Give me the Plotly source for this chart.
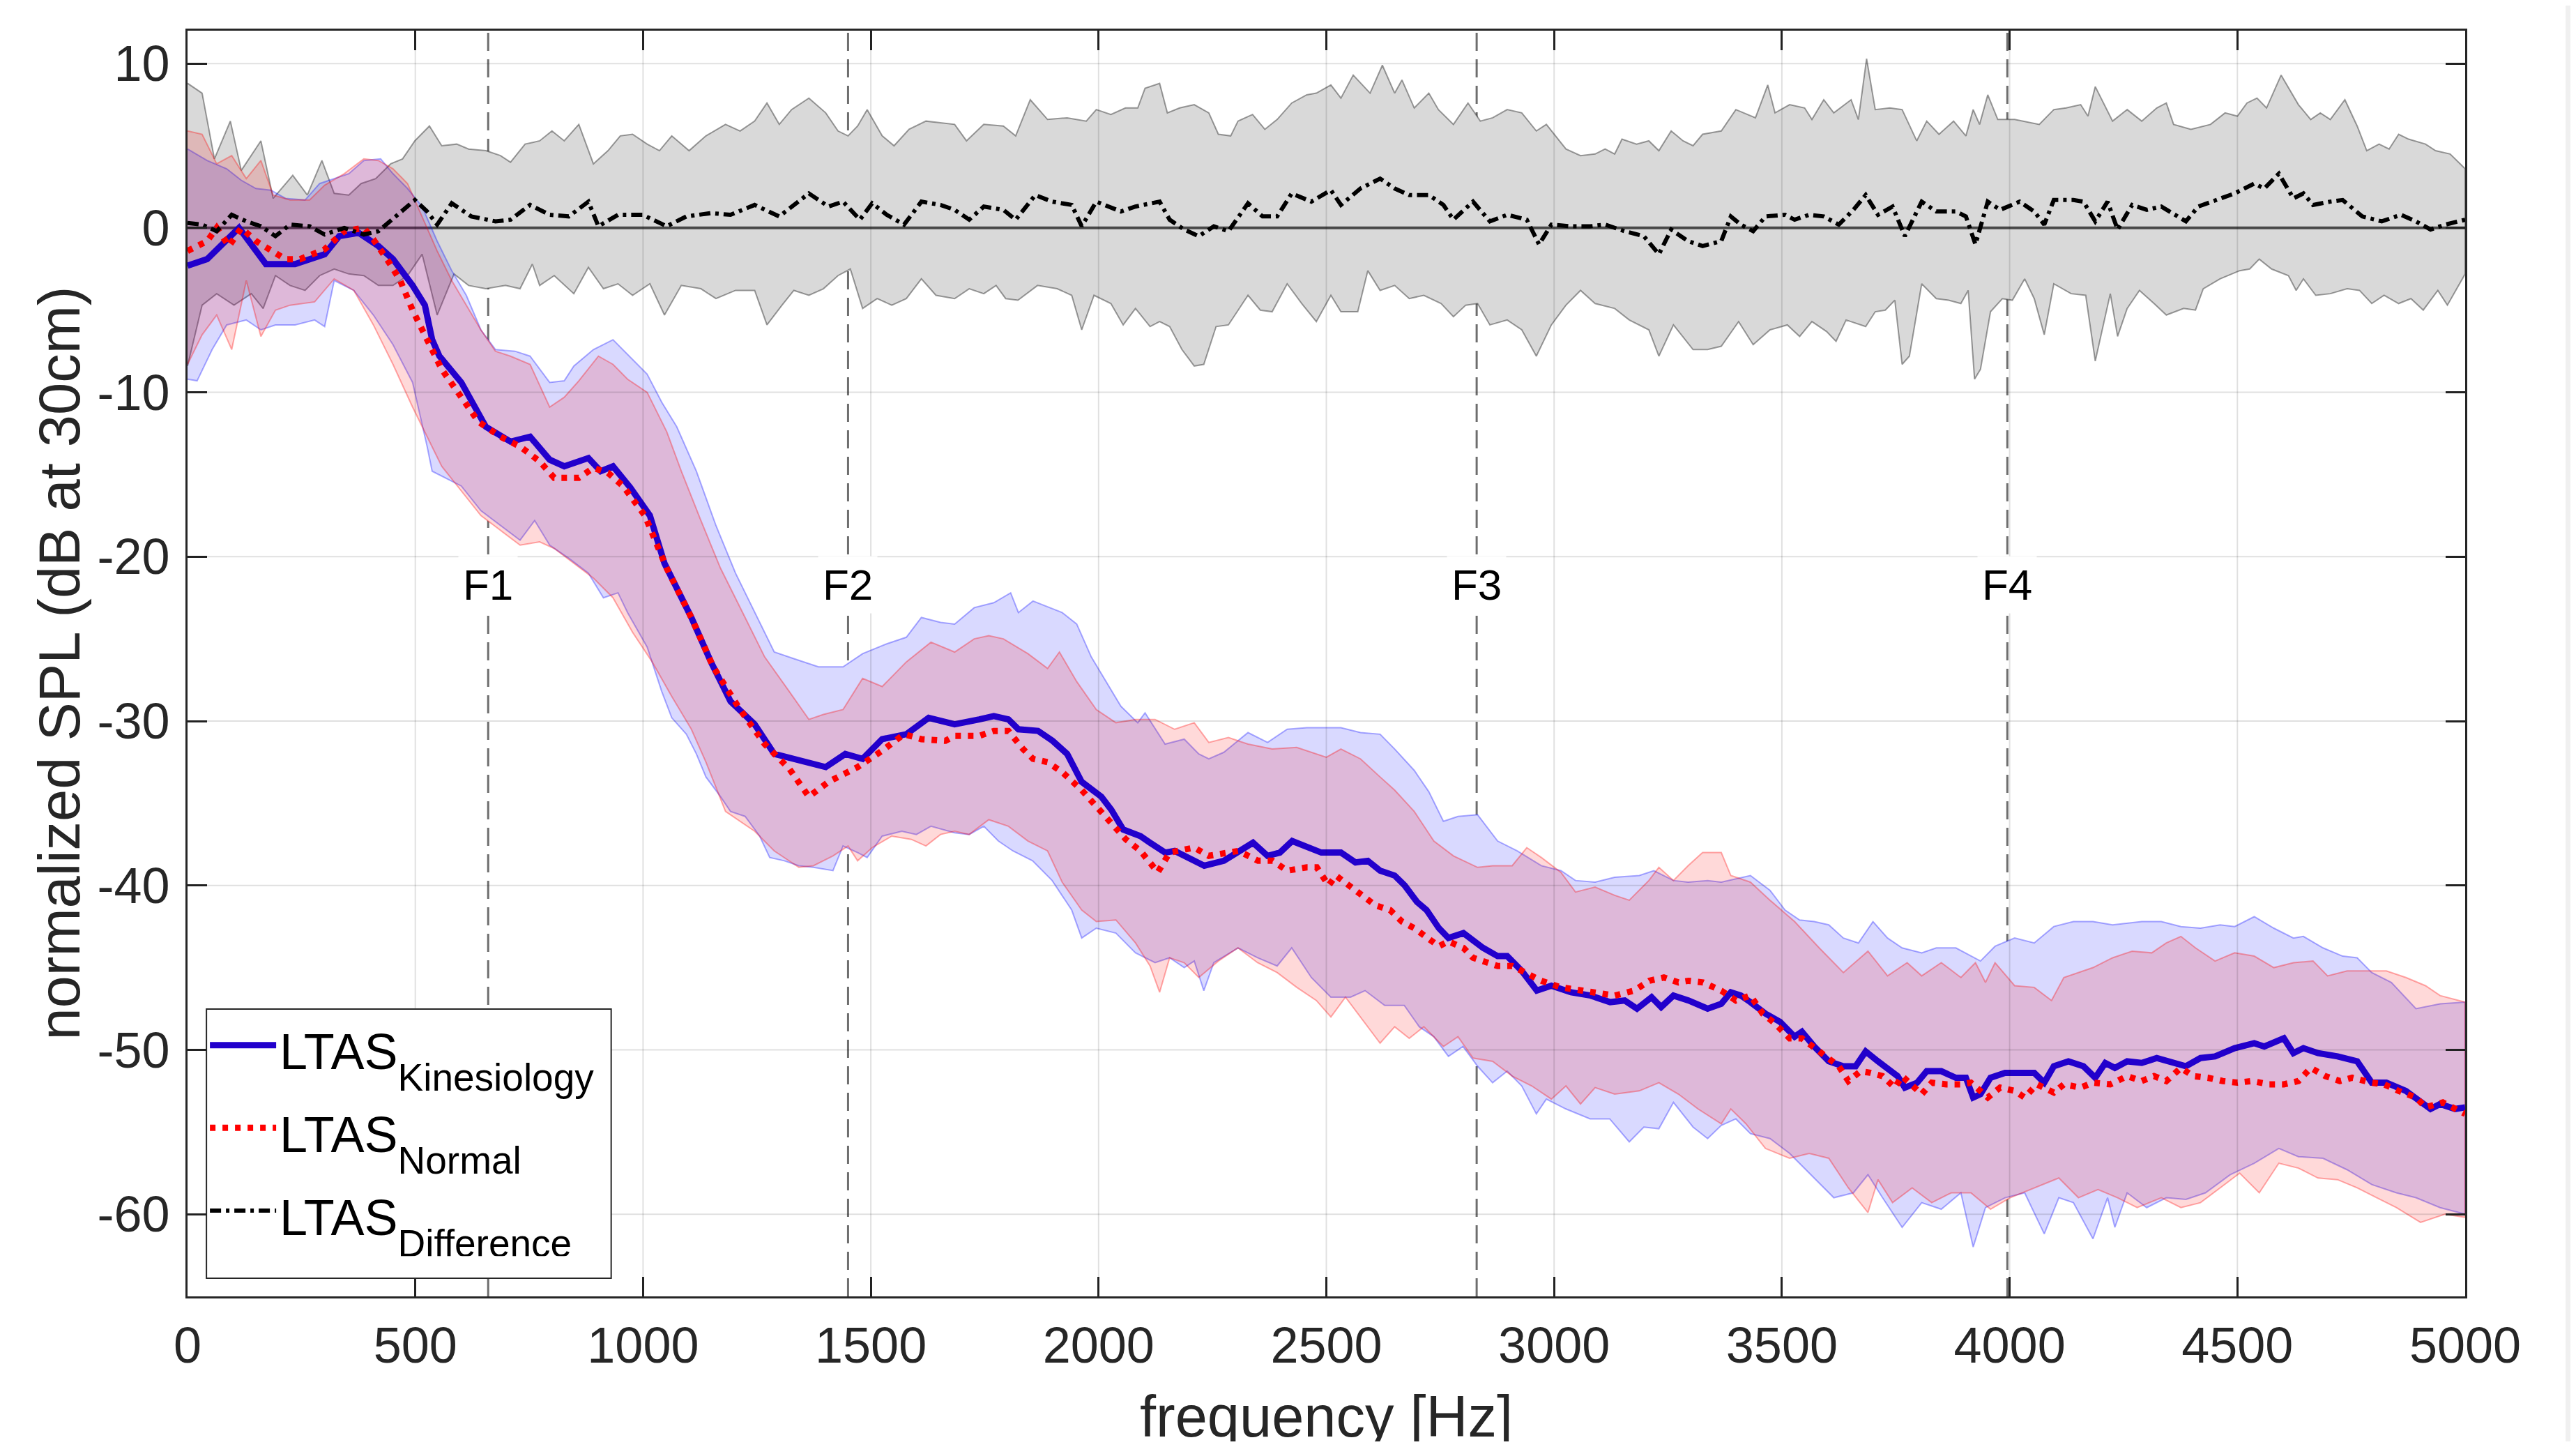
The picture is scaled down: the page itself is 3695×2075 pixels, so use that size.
import plotly.graph_objects as go

# frequency axis and tick labels
X_RANGE = [0, 5000]
Y_RANGE = [-65, 12]
X_TICKS = [0, 500, 1000, 1500, 2000, 2500, 3000, 3500, 4000, 4500, 5000]
Y_TICKS = [-60, -50, -40, -30, -20, -10, 0, 10]
Y_TICK_LABELS = ["-60", "-50", "-40", "-30", "-20", "-10", "0", "10"]

# formant positions [Hz]
FORMANTS = [("F1", 660), ("F2", 1450), ("F3", 2830), ("F4", 3995)]
FORMANT_LABEL_DB = -21.7

# legend names: main text + subscript
SERIES_NAMES = [("LTAS", "Kinesiology"), ("LTAS", "Normal"), ("LTAS", "Difference")]

# mean LTAS curves, (frequency Hz, dB)
KIN_MEAN = [(0,-2.3),(43,-1.9),(113,0.0),(172,-2.2),(236,-2.2),(301,-1.6),(333,-0.5),(376,-0.3),(419,-1.1),(451,-1.9),
    (494,-3.5),(521,-4.7),(537,-6.8),(553,-7.8),(601,-9.4),(655,-12.1),(709,-13.0),(752,-12.7),(795,-14.1),(827,-14.5),
    (880,-14.0),(907,-14.8),(934,-14.5),(972,-15.8),(1015,-17.5),(1047,-20.4),(1106,-23.7),(1149,-26.4),(1192,-28.8),(1245,-30.2),
    (1288,-32.0),(1331,-32.3),(1401,-32.8),(1444,-32.0),(1482,-32.3),(1525,-31.1),(1578,-30.8),(1627,-29.8),(1684,-30.2),(1738,-29.9),
    (1770,-29.7),(1802,-29.9),(1824,-30.5),(1867,-30.6),(1899,-31.2),(1931,-32.0),(1963,-33.7),(2006,-34.6),(2028,-35.4),(2054,-36.6),
    (2092,-37.0),(2113,-37.4),(2146,-38.0),(2167,-37.9),(2199,-38.3),(2232,-38.8),(2275,-38.5),(2307,-37.9),(2339,-37.4),(2371,-38.2),
    (2398,-38.0),(2425,-37.3),(2457,-37.6),(2489,-38.0),(2532,-38.0),(2564,-38.6),(2591,-38.5),(2618,-39.1),(2650,-39.4),(2672,-40.0),
    (2699,-41.0),(2720,-41.5),(2747,-42.6),(2768,-43.2),(2801,-42.9),(2844,-43.8),(2876,-44.3),(2897,-44.3),(2929,-45.2),(2962,-46.4),
    (2994,-46.1),(3037,-46.5),(3080,-46.7),(3123,-47.1),(3155,-47.0),(3182,-47.5),(3214,-46.8),(3235,-47.4),(3262,-46.7),(3295,-47.0),
    (3337,-47.5),(3367,-47.2),(3388,-46.5),(3410,-46.7),(3431,-47.1),(3464,-47.8),(3496,-48.3),(3528,-49.2),(3544,-48.9),(3571,-49.8),
    (3603,-50.7),(3635,-51.0),(3662,-51.0),(3684,-50.1),(3711,-50.7),(3754,-51.6),(3770,-52.3),(3797,-52.0),(3818,-51.3),(3850,-51.3),
    (3882,-51.7),(3904,-51.7),(3920,-52.9),(3936,-52.7),(3958,-51.7),(3990,-51.4),(4054,-51.4),(4076,-52.0),(4097,-51.0),(4129,-50.7),
    (4162,-51.0),(4188,-51.7),(4210,-50.8),(4231,-51.1),(4258,-50.7),(4290,-50.8),(4323,-50.5),(4355,-50.8),(4387,-51.0),(4419,-50.5),
    (4451,-50.4),(4494,-49.9),(4537,-49.6),(4559,-49.8),(4602,-49.3),(4623,-50.2),(4645,-49.9),(4677,-50.2),(4720,-50.4),(4763,-50.7),
    (4795,-52.0),(4827,-52.0),(4870,-52.5),(4924,-53.6),(4945,-53.3),(4978,-53.6),(5000,-53.5)]

NORM_MEAN = [(0,-1.4),(43,-0.8),(64,0.0),(91,-1.1),(118,0.0),(150,-0.8),(215,-1.9),(247,-1.9),(301,-1.3),(344,-0.2),
    (387,0.0),(408,-0.7),(440,-2.0),(467,-3.2),(494,-5.0),(526,-6.8),(558,-8.6),(601,-10.3),(639,-11.8),(687,-12.7),
    (730,-13.3),(773,-14.2),(805,-15.2),(859,-15.2),(891,-14.6),(923,-14.9),(956,-15.7),(1004,-17.5),(1052,-20.7),(1106,-23.7),
    (1154,-26.7),(1213,-29.3),(1267,-31.4),(1321,-32.9),(1364,-34.6),(1407,-33.7),(1471,-32.8),(1525,-31.8),(1573,-30.8),(1611,-31.1),
    (1664,-31.2),(1684,-30.9),(1738,-30.9),(1770,-30.6),(1802,-30.6),(1834,-31.7),(1856,-32.3),(1888,-32.5),(1920,-33.1),(1963,-34.2),
    (1995,-35.2),(2028,-36.3),(2060,-37.2),(2092,-37.9),(2130,-39.2),(2156,-38.0),(2210,-37.7),(2242,-38.2),(2275,-38.0),(2307,-37.9),
    (2350,-38.5),(2382,-38.5),(2414,-39.1),(2457,-38.9),(2479,-38.9),(2505,-40.0),(2521,-39.4),(2548,-40.0),(2575,-40.6),(2607,-41.2),
    (2640,-41.5),(2666,-42.2),(2693,-42.6),(2720,-43.1),(2747,-43.7),(2768,-43.4),(2801,-43.8),(2822,-44.4),(2876,-44.9),(2908,-44.9),
    (2940,-45.3),(2972,-45.8),(3015,-46.2),(3058,-46.4),(3091,-46.5),(3133,-46.7),(3176,-46.4),(3209,-45.8),(3241,-45.6),(3273,-45.9),
    (3295,-45.8),(3327,-45.9),(3367,-46.4),(3399,-47.0),(3431,-46.7),(3458,-47.8),(3485,-48.4),(3517,-49.3),(3544,-49.3),(3571,-49.9),
    (3598,-50.5),(3625,-51.0),(3646,-51.9),(3673,-51.3),(3694,-51.4),(3721,-51.6),(3748,-52.3),(3764,-51.6),(3807,-52.7),(3829,-52.0),
    (3861,-52.1),(3893,-52.1),(3915,-52.0),(3952,-52.9),(3979,-52.3),(4011,-52.5),(4033,-52.9),(4060,-52.1),(4097,-52.6),(4119,-52.1),
    (4156,-52.3),(4183,-52.0),(4221,-52.1),(4258,-51.6),(4290,-51.9),(4317,-51.6),(4344,-51.9),(4376,-51.1),(4403,-51.6),(4435,-51.7),
    (4468,-51.9),(4500,-52.0),(4532,-51.9),(4570,-52.1),(4602,-52.1),(4634,-51.9),(4661,-51.1),(4693,-51.6),(4725,-51.9),(4752,-51.7),
    (4795,-52.0),(4822,-52.1),(4854,-52.5),(4892,-52.9),(4913,-53.5),(4951,-53.2),(5000,-53.9)]

DIFF_MEAN = [(0,0.3),(32,0.2),(64,-0.2),(97,0.8),(129,0.4),(161,0.1),(193,-0.5),(225,0.2),(268,0.1),(301,-0.4),
    (344,0.0),(387,-0.4),(419,-0.2),(462,0.8),(499,1.7),(526,1.0),(548,0.2),(580,1.5),(623,0.7),(676,0.4),
    (709,0.5),(752,1.4),(795,0.8),(837,0.7),(880,1.6),(902,0.1),(945,0.8),(999,0.8),(1052,0.1),(1095,0.7),
    (1149,0.9),(1192,0.8),(1245,1.4),(1299,0.7),(1331,1.4),(1364,2.1),(1407,1.3),(1439,1.6),(1476,0.5),(1503,1.5),
    (1535,0.8),(1573,0.2),(1611,1.6),(1653,1.4),(1684,1.1),(1716,0.5),(1748,1.3),(1791,1.1),(1818,0.5),(1861,2.0),
    (1898,1.6),(1941,1.4),(1963,0.1),(1995,1.6),(2049,1.0),(2081,1.3),(2134,1.6),(2156,0.5),(2188,-0.1),(2220,-0.5),
    (2253,0.1),(2285,-0.2),(2328,1.5),(2360,0.7),(2392,0.7),(2424,2.1),(2467,1.6),(2510,2.3),(2532,1.4),(2575,2.4),
    (2618,3.0),(2650,2.4),(2682,2.0),(2725,2.0),(2757,1.4),(2779,0.5),(2822,1.6),(2859,0.4),(2897,0.8),(2940,0.5),
    (2967,-1.0),(2994,0.2),(3037,0.1),(3079,0.1),(3112,0.2),(3155,-0.2),(3197,-0.5),(3230,-1.6),(3257,-0.1),(3294,-0.8),
    (3326,-1.1),(3367,-0.8),(3388,0.7),(3410,0.2),(3437,-0.2),(3464,0.7),(3507,0.8),(3528,0.5),(3560,0.8),(3592,0.7),
    (3625,0.2),(3657,1.1),(3684,2.0),(3711,0.8),(3743,1.3),(3770,-0.5),(3807,1.6),(3839,1.0),(3882,1.0),(3904,0.7),
    (3925,-1.0),(3952,1.6),(3979,1.1),(4022,1.6),(4054,1.0),(4076,0.2),(4097,1.7),(4140,1.7),(4162,1.6),(4188,0.4),
    (4215,1.6),(4237,-0.1),(4269,1.4),(4301,1.1),(4333,1.3),(4387,0.4),(4414,1.3),(4451,1.7),(4494,2.1),(4537,2.7),
    (4559,2.4),(4591,3.3),(4623,1.8),(4645,2.1),(4666,1.4),(4704,1.6),(4731,1.7),(4774,0.7),(4817,0.4),(4859,0.8),
    (4892,0.4),(4924,-0.1),(4956,0.2),(5000,0.5)]

# spread bands, upper and lower edges
KIN_UP = [(0,4.8),(43,4.1),(86,3.6),(118,2.9),(150,2.4),(183,2.3),(215,1.8),(258,1.7),(290,2.7),(322,3.0),
    (354,3.3),(387,4.1),(424,4.2),(451,3.3),(483,2.4),(515,1.3),(548,-0.8),(580,-2.6),(612,-4.1),(644,-6.2),
    (676,-7.4),(719,-7.5),(752,-7.8),(795,-9.4),(827,-9.3),(848,-8.4),(891,-7.4),(934,-6.8),(966,-7.7),(1009,-8.9),
    (1041,-10.6),(1074,-12.1),(1117,-14.8),(1160,-18.1),(1203,-21.0),(1245,-23.4),(1288,-25.8),(1331,-26.2),(1385,-26.7),(1439,-26.7),
    (1482,-25.9),(1535,-25.3),(1578,-24.9),(1611,-23.7),(1653,-24.0),(1684,-24.1),(1727,-23.1),(1770,-22.8),(1807,-22.2),(1824,-23.4),
    (1856,-22.7),(1920,-23.4),(1952,-24.1),(1984,-26.1),(2017,-27.6),(2049,-29.1),(2086,-30.1),(2102,-29.5),(2146,-31.4),(2188,-31.1),
    (2220,-32.0),(2242,-32.3),(2275,-31.9),(2328,-30.7),(2371,-31.3),(2414,-30.5),(2457,-30.4),(2532,-30.4),(2575,-30.7),(2618,-30.8),
    (2650,-31.7),(2693,-33.0),(2725,-34.3),(2757,-36.1),(2789,-35.8),(2832,-35.7),(2876,-37.3),(2919,-37.9),(2972,-38.8),(3015,-39.1),
    (3047,-39.7),(3090,-39.8),(3133,-39.5),(3187,-39.4),(3219,-39.1),(3262,-39.7),(3294,-39.8),(3337,-39.7),(3367,-39.8),(3399,-39.6),
    (3431,-39.4),(3474,-40.3),(3507,-41.5),(3539,-42.1),(3571,-42.2),(3603,-42.4),(3635,-43.2),(3668,-43.5),(3700,-42.2),(3732,-43.2),
    (3764,-43.8),(3807,-44.1),(3839,-43.8),(3882,-43.8),(3936,-44.6),(3968,-43.7),(4011,-43.2),(4054,-43.5),(4097,-42.5),(4140,-42.2),
    (4183,-42.2),(4226,-42.4),(4290,-42.2),(4333,-42.2),(4376,-42.5),(4419,-42.6),(4462,-42.4),(4494,-42.5),(4537,-41.9),(4580,-42.6),
    (4623,-43.2),(4645,-43.1),(4688,-43.8),(4731,-44.3),(4763,-44.4),(4795,-45.3),(4838,-45.9),(4892,-47.5),(4945,-47.2),(5000,-47.1)]

KIN_LO = [(0,-9.2),(21,-9.3),(54,-7.4),(86,-5.9),(129,-5.6),(161,-6.2),(193,-5.9),(236,-5.9),(279,-5.6),(301,-6.0),
    (322,-3.2),(365,-3.8),(408,-5.3),(451,-7.1),(494,-9.4),(526,-13.3),(537,-14.8),(558,-15.1),(601,-15.7),(644,-17.2),
    (687,-18.1),(730,-19.0),(762,-17.8),(795,-19.3),(837,-20.1),(880,-21.0),(913,-22.5),(945,-22.2),(966,-23.4),(1009,-25.5),
    (1041,-28.2),(1063,-29.8),(1095,-30.8),(1117,-32.0),(1138,-33.4),(1170,-34.6),(1192,-35.5),(1224,-35.8),(1256,-37.0),(1278,-38.3),
    (1310,-38.5),(1342,-38.8),(1374,-38.9),(1417,-39.1),(1439,-37.6),(1471,-38.0),(1492,-38.3),(1525,-37.0),(1568,-36.7),(1600,-36.9),
    (1632,-36.4),(1684,-36.8),(1716,-36.9),(1748,-36.4),(1780,-37.3),(1812,-37.9),(1855,-38.5),(1898,-39.7),(1941,-41.5),(1963,-43.2),
    (1995,-42.6),(2038,-42.9),(2081,-44.1),(2124,-44.7),(2156,-44.4),(2188,-45.0),(2210,-44.6),(2231,-46.4),(2253,-44.7),(2306,-43.8),
    (2349,-44.4),(2392,-44.9),(2424,-43.8),(2467,-45.6),(2510,-46.8),(2553,-46.8),(2585,-46.4),(2628,-47.3),(2671,-47.3),(2704,-48.6),
    (2736,-49.2),(2768,-50.4),(2800,-49.8),(2832,-51.0),(2865,-52.0),(2897,-51.3),(2929,-52.2),(2961,-53.9),(2983,-53.0),(3026,-53.6),
    (3079,-54.2),(3122,-54.2),(3165,-55.6),(3197,-54.7),(3230,-54.8),(3262,-53.2),(3305,-54.7),(3337,-55.4),(3367,-54.6),(3399,-54.2),
    (3431,-55.1),(3474,-55.4),(3517,-56.3),(3560,-57.5),(3614,-59.0),(3657,-58.7),(3689,-57.6),(3721,-59.0),(3764,-60.8),(3807,-59.3),
    (3850,-59.7),(3893,-58.7),(3920,-62.0),(3947,-59.6),(3990,-59.0),(4033,-58.7),(4076,-61.2),(4108,-59.0),(4140,-59.3),(4183,-61.5),
    (4215,-59.0),(4231,-60.8),(4258,-58.7),(4301,-59.6),(4344,-59.0),(4387,-59.1),(4430,-58.7),(4484,-57.6),(4537,-56.9),(4591,-56.0),
    (4634,-56.5),(4688,-56.6),(4741,-57.3),(4795,-58.2),(4849,-58.7),(4892,-59.0),(4945,-59.6),(5000,-60.0)]

NORM_UP = [(0,5.9),(32,5.7),(64,3.9),(97,4.4),(129,3.0),(161,4.1),(188,2.0),(225,1.7),(268,1.7),(301,2.6),
    (344,3.3),(387,4.2),(419,4.1),(451,3.6),(483,2.7),(515,0.7),(548,-1.4),(580,-3.2),(612,-4.7),(644,-6.2),
    (676,-7.5),(709,-7.8),(752,-8.3),(795,-10.9),(827,-10.3),(859,-9.3),(902,-7.8),(934,-8.3),(966,-9.2),(1009,-10.0),
    (1052,-12.4),(1084,-14.8),(1127,-17.8),(1170,-20.7),(1224,-23.7),(1267,-26.1),(1321,-28.2),(1364,-29.9),(1396,-29.6),(1439,-29.3),
    (1482,-27.4),(1525,-27.9),(1578,-26.4),(1632,-25.2),(1684,-25.8),(1727,-25.0),(1759,-24.8),(1791,-25.0),(1845,-25.9),(1888,-26.8),
    (1914,-25.8),(1952,-27.6),(1995,-29.3),(2038,-30.1),(2081,-29.9),(2124,-29.9),(2167,-30.5),(2210,-30.1),(2242,-31.3),(2285,-31.0),
    (2328,-31.4),(2381,-31.7),(2435,-31.6),(2500,-32.2),(2532,-31.7),(2575,-32.3),(2618,-33.4),(2650,-34.2),(2693,-35.5),(2736,-37.3),
    (2779,-38.2),(2832,-38.9),(2865,-38.8),(2908,-38.8),(2940,-37.7),(2972,-38.3),(3015,-39.2),(3047,-40.4),(3090,-40.1),(3133,-40.6),
    (3165,-40.9),(3208,-39.7),(3230,-38.9),(3262,-39.7),(3294,-38.8),(3326,-38.0),(3367,-38.0),(3388,-39.4),(3431,-39.8),(3474,-40.9),
    (3528,-42.2),(3582,-43.8),(3635,-45.3),(3689,-44.0),(3732,-45.5),(3775,-44.7),(3807,-45.5),(3850,-44.7),(3893,-45.6),(3925,-44.7),
    (3947,-45.9),(3968,-44.7),(4011,-46.1),(4054,-46.2),(4092,-47.0),(4119,-45.6),(4183,-45.0),(4226,-44.4),(4269,-44.0),(4312,-44.1),
    (4344,-43.5),(4376,-43.1),(4408,-43.8),(4451,-44.6),(4494,-44.1),(4537,-44.3),(4580,-45.0),(4623,-44.7),(4666,-44.6),(4698,-45.5),
    (4741,-45.2),(4784,-45.2),(4827,-45.2),(4870,-45.6),(4913,-46.1),(4945,-46.7),(5000,-47.1)]

NORM_LO = [(0,-8.3),(32,-6.5),(64,-5.3),(97,-7.4),(129,-3.2),(161,-6.6),(193,-5.0),(225,-4.7),(279,-4.5),(322,-3.1),
    (365,-3.8),(408,-5.9),(451,-8.3),(494,-10.9),(526,-12.7),(558,-14.5),(601,-16.0),(644,-17.5),(687,-18.4),(730,-19.3),
    (773,-19.1),(805,-19.5),(848,-20.4),(891,-21.3),(934,-22.5),(977,-24.6),(1020,-26.4),(1063,-28.5),(1106,-30.5),(1138,-32.5),
    (1181,-35.5),(1245,-36.7),(1288,-37.9),(1342,-38.9),(1374,-38.8),(1417,-38.2),(1450,-37.6),(1471,-38.5),(1503,-37.7),(1546,-37.0),
    (1589,-37.2),(1621,-37.6),(1653,-36.9),(1684,-36.7),(1716,-36.9),(1759,-36.0),(1802,-36.4),(1845,-37.3),(1888,-37.9),(1920,-39.8),
    (1963,-41.5),(1995,-42.2),(2038,-42.1),(2081,-43.5),(2113,-44.9),(2134,-46.5),(2156,-44.4),(2188,-44.7),(2220,-45.6),(2263,-44.6),
    (2306,-43.8),(2349,-44.7),(2392,-45.3),(2435,-46.2),(2478,-47.0),(2510,-48.0),(2542,-46.8),(2575,-48.0),(2618,-49.6),(2650,-48.6),
    (2682,-49.3),(2714,-48.6),(2757,-49.8),(2789,-49.2),(2822,-50.5),(2865,-50.7),(2908,-51.6),(2951,-52.2),(2994,-53.0),(3026,-52.2),
    (3058,-53.3),(3090,-52.3),(3133,-52.7),(3187,-52.5),(3230,-52.0),(3273,-52.7),(3316,-53.6),(3367,-54.5),(3388,-53.6),(3421,-54.5),
    (3464,-56.0),(3517,-56.6),(3560,-56.3),(3603,-56.6),(3646,-58.4),(3689,-59.9),(3711,-57.9),(3743,-59.3),(3786,-58.4),(3829,-59.3),
    (3872,-58.7),(3915,-58.7),(3958,-59.7),(4001,-59.0),(4054,-58.4),(4108,-57.8),(4151,-59.0),(4194,-58.5),(4237,-59.0),(4280,-59.6),
    (4333,-59.0),(4376,-59.6),(4419,-59.3),(4462,-58.4),(4505,-57.5),(4548,-58.7),(4591,-56.9),(4634,-57.2),(4677,-57.8),(4720,-57.9),
    (4763,-58.4),(4806,-59.0),(4849,-59.6),(4902,-60.5),(4956,-60.0),(5000,-60.2)]

DIFF_UP = [(0,8.8),(32,8.2),(59,4.2),(94,6.5),(118,3.5),(161,5.3),(188,1.8),(231,3.2),(263,2.0),(295,4.1),
    (322,2.1),(354,2.0),(381,2.7),(413,3.0),(446,3.9),(472,4.2),(499,5.3),(531,6.2),(558,5.0),(591,5.1),
    (617,4.8),(655,4.7),(687,4.4),(709,4.0),(741,5.1),(773,5.3),(800,5.9),(827,5.3),(859,6.3),(891,3.9),
    (923,4.7),(950,5.6),(977,5.7),(1009,5.1),(1036,4.7),(1063,5.6),(1101,4.7),(1138,5.6),(1181,6.3),(1213,5.9),
    (1245,6.5),(1272,7.6),(1299,6.3),(1326,7.2),(1364,7.9),(1401,7.0),(1428,5.9),(1450,5.6),(1471,6.2),(1492,7.2),
    (1525,5.6),(1551,5.0),(1584,6.0),(1621,6.5),(1684,6.3),(1710,5.3),(1748,6.3),(1791,6.2),(1818,5.6),(1850,7.8),
    (1888,6.6),(1931,6.7),(1973,6.5),(1995,7.2),(2027,6.9),(2059,7.3),(2086,7.3),(2102,8.5),(2134,8.8),(2151,7.0),
    (2178,7.3),(2210,7.5),(2242,7.0),(2263,5.7),(2290,5.6),(2306,6.5),(2338,6.9),(2365,6.0),(2392,6.6),(2424,7.6),
    (2457,8.1),(2478,8.2),(2510,8.7),(2532,7.9),(2559,9.3),(2596,8.2),(2623,9.9),(2650,8.2),(2666,9.0),(2693,7.3),
    (2725,8.2),(2746,7.2),(2779,6.3),(2811,7.6),(2838,6.5),(2865,6.7),(2897,7.2),(2929,7.0),(2961,5.9),(2983,6.3),
    (3026,4.8),(3058,4.4),(3090,4.5),(3112,4.8),(3133,4.5),(3149,5.4),(3181,5.1),(3208,5.3),(3230,4.7),(3257,5.9),
    (3283,5.3),(3305,5.0),(3326,5.7),(3367,5.9),(3399,7.2),(3442,6.7),(3469,8.7),(3485,7.0),(3517,7.5),(3550,7.3),
    (3566,6.6),(3592,7.8),(3614,7.0),(3652,7.8),(3668,6.6),(3686,10.3),(3705,7.2),(3737,7.3),(3764,7.2),(3796,5.3),
    (3818,6.5),(3845,5.7),(3877,6.5),(3904,5.6),(3920,7.2),(3934,6.3),(3952,8.1),(3974,6.6),(4011,6.6),(4065,6.3),
    (4097,7.2),(4124,7.3),(4156,7.5),(4172,6.8),(4188,8.6),(4226,6.5),(4258,7.2),(4290,6.5),(4323,7.3),(4344,7.6),
    (4360,6.3),(4398,6.0),(4441,6.3),(4473,7.0),(4500,6.8),(4521,7.6),(4543,7.9),(4564,7.3),(4596,9.3),(4634,7.5),
    (4661,6.6),(4682,7.0),(4704,6.6),(4736,7.8),(4763,6.2),(4784,4.7),(4811,5.1),(4833,4.8),(4854,5.7),(4876,5.4),
    (4913,5.1),(4935,4.7),(4967,4.5),(5000,3.6)]

DIFF_LO = [(0,-8.4),(32,-4.7),(64,-4.0),(102,-4.7),(140,-4.0),(166,-4.9),(193,-2.9),(225,-3.5),(258,-3.8),(290,-2.9),
    (322,-2.5),(354,-2.8),(387,-2.9),(419,-3.5),(451,-3.5),(483,-2.9),(515,-1.6),(548,-5.3),(585,-2.8),(617,-3.5),
    (655,-3.7),(698,-3.5),(730,-3.7),(757,-2.2),(773,-3.5),(805,-2.9),(848,-4.0),(880,-2.4),(913,-3.7),(945,-3.4),
    (977,-4.1),(1015,-3.4),(1047,-5.3),(1084,-3.5),(1127,-3.7),(1160,-4.3),(1203,-3.8),(1245,-3.8),(1272,-5.9),(1305,-4.7),
    (1331,-3.8),(1364,-4.1),(1396,-3.7),(1428,-2.9),(1455,-2.5),(1482,-4.9),(1514,-4.3),(1546,-4.7),(1578,-4.3),(1611,-3.1),
    (1643,-4.1),(1684,-4.3),(1716,-3.7),(1748,-4.0),(1775,-3.5),(1796,-4.3),(1823,-4.4),(1866,-3.5),(1909,-3.7),(1941,-4.1),
    (1963,-6.2),(1990,-4.1),(2027,-4.6),(2054,-5.9),(2081,-4.9),(2113,-6.0),(2134,-5.7),(2156,-6.0),(2183,-7.4),(2210,-8.4),
    (2231,-8.3),(2258,-6.0),(2285,-5.9),(2328,-4.1),(2355,-5.0),(2381,-5.1),(2414,-3.4),(2446,-4.6),(2478,-5.7),(2510,-4.1),
    (2532,-5.1),(2569,-5.1),(2591,-2.6),(2618,-3.8),(2650,-3.5),(2682,-4.3),(2714,-4.1),(2752,-4.6),(2779,-5.4),(2806,-4.7),
    (2832,-4.6),(2859,-5.9),(2897,-5.6),(2929,-6.2),(2961,-7.8),(2994,-5.9),(3026,-4.7),(3058,-3.8),(3090,-4.6),(3133,-4.9),
    (3165,-5.6),(3208,-6.2),(3230,-7.8),(3262,-5.9),(3305,-7.4),(3337,-7.4),(3367,-7.2),(3405,-5.7),(3437,-7.1),(3474,-6.2),
    (3512,-5.9),(3539,-6.6),(3566,-5.7),(3598,-6.3),(3619,-6.9),(3641,-5.6),(3684,-6.0),(3705,-5.1),(3727,-5.0),(3748,-4.4),
    (3764,-8.3),(3780,-7.8),(3807,-3.4),(3839,-4.3),(3866,-4.4),(3893,-4.6),(3909,-3.8),(3923,-9.2),(3936,-8.6),(3958,-5.1),
    (3984,-4.3),(4006,-4.4),(4033,-3.1),(4054,-4.3),(4076,-6.5),(4097,-3.4),(4135,-4.0),(4167,-4.1),(4188,-8.1),(4221,-4.0),
    (4237,-6.6),(4258,-4.9),(4285,-3.8),(4317,-4.6),(4344,-5.3),(4382,-4.9),(4408,-5.0),(4425,-3.7),(4462,-3.1),(4505,-2.6),
    (4527,-2.5),(4548,-1.9),(4575,-2.5),(4612,-2.9),(4629,-3.8),(4645,-3.1),(4672,-4.1),(4704,-4.0),(4741,-3.7),(4768,-3.8),
    (4795,-4.6),(4822,-4.1),(4854,-4.6),(4881,-4.3),(4908,-5.0),(4940,-3.8),(4961,-4.7),(5000,-2.8)]

FONT = "Liberation Sans"
AXIS_COLOR = "#262626"


def split(pairs):
    f, v = zip(*pairs)
    return list(f), list(v)


def band_polygon(up, lo):
    fu, vu = split(up)
    fl, vl = split(lo)
    return fu + fl[::-1], vu + vl[::-1]


def legend_name(main, sub):
    return ('<span style="font-size:72px">%s<sub><span style="font-size:55px;baseline-shift:-16px">%s</span></sub></span>'
            % (main, sub))


bands = [
    (DIFF_UP, DIFF_LO, "rgba(0,0,0,0.15)", "rgba(0,0,0,0.38)"),
    (KIN_UP, KIN_LO, "rgba(0,0,255,0.15)", "rgba(0,0,255,0.33)"),
    (NORM_UP, NORM_LO, "rgba(255,0,0,0.15)", "rgba(255,0,0,0.33)"),
]

fig = go.Figure()

# white underlay so the formant lines are hidden behind the bands
for up, lo, _, _ in bands:
    x, y = band_polygon(up, lo)
    fig.add_trace(go.Scatter(x=x, y=y, mode="lines", fill="toself", fillcolor="white",
                             line=dict(width=0), showlegend=False, hoverinfo="skip"))

# 0 dB reference line
fig.add_trace(go.Scatter(x=X_RANGE, y=[0, 0], mode="lines", line=dict(color="#5e5e5e", width=4),
                         showlegend=False, hoverinfo="skip"))

for up, lo, fillc, edgec in bands:
    x, y = band_polygon(up, lo)
    fig.add_trace(go.Scatter(x=x, y=y, mode="lines", fill="toself", fillcolor=fillc,
                             line=dict(color=edgec, width=2), showlegend=False, hoverinfo="skip"))

f, v = split(KIN_MEAN)
fig.add_trace(go.Scatter(x=f, y=v, mode="lines", line=dict(color="#2200CC", width=9),
                         name=legend_name(*SERIES_NAMES[0])))
f, v = split(NORM_MEAN)
fig.add_trace(go.Scatter(x=f, y=v, mode="lines", line=dict(color="#FF0000", width=9, dash="8px,10px"),
                         name=legend_name(*SERIES_NAMES[1])))
f, v = split(DIFF_MEAN)
fig.add_trace(go.Scatter(x=f, y=v, mode="lines", line=dict(color="black", width=6, dash="16px,7px,5px,7px"),
                         name=legend_name(*SERIES_NAMES[2])))

shapes = []
for label, hz in FORMANTS:
    shapes.append(dict(type="line", xref="x", yref="paper", x0=hz, x1=hz, y0=0, y1=1, layer="below",
                       line=dict(color="#6e6e6e", width=3, dash="26px,12px")))
# grid drawn on top so it shows through the bands
for t in X_TICKS[1:-1]:
    shapes.append(dict(type="line", xref="x", yref="paper", x0=t, x1=t, y0=0, y1=1, layer="above",
                       line=dict(color="rgba(0,0,0,0.12)", width=2)))
for t in Y_TICKS:
    shapes.append(dict(type="line", xref="paper", yref="y", x0=0, x1=1, y0=t, y1=t, layer="above",
                       line=dict(color="rgba(0,0,0,0.12)", width=2)))
# legend frame (the legend itself is drawn borderless on top of it)
shapes.append(dict(type="rect", xref="paper", yref="paper", x0=0.0083, x1=0.186, y0=0.0143, y1=0.227,
                   fillcolor="white", line=dict(color=AXIS_COLOR, width=2), layer="above"))
# window scrollbar strip at the right edge of the capture
shapes.append(dict(type="rect", xref="paper", yref="paper", x0=1.0441, x1=1.07, y0=-0.2, y1=1.1,
                   fillcolor="#f0f0f0", line=dict(width=0), layer="above"))

annotations = []
for label, hz in FORMANTS:
    annotations.append(dict(x=hz, y=FORMANT_LABEL_DB, xref="x", yref="y", text=label, showarrow=False,
                            font=dict(family=FONT, size=62, color="black"), bgcolor="white", borderpad=6))
annotations.append(dict(x=0.5, y=-0.0953, xref="paper", yref="paper", text="frequency [Hz]", showarrow=False,
                        xanchor="center", yanchor="middle", font=dict(family=FONT, size=83, color=AXIS_COLOR)))
annotations.append(dict(x=-0.0563, y=0.5, xref="paper", yref="paper", text="normalized SPL (dB at 30cm)",
                        showarrow=False, textangle=-90, xanchor="center", yanchor="middle",
                        font=dict(family=FONT, size=83, color=AXIS_COLOR)))

axis_common = dict(showgrid=False, zeroline=False, showline=True, linecolor=AXIS_COLOR, linewidth=3,
                   mirror="ticks", ticks="inside", ticklen=28, tickwidth=3, tickcolor=AXIS_COLOR,
                   tickfont=dict(family=FONT, size=72, color=AXIS_COLOR))

fig.update_layout(
    width=3679,
    height=2059,
    margin=dict(l=261, r=151, t=36, b=208),
    paper_bgcolor="white",
    plot_bgcolor="white",
    xaxis=dict(range=X_RANGE, tickvals=X_TICKS, ticklabelstandoff=6, **axis_common),
    yaxis=dict(range=Y_RANGE, tickvals=Y_TICKS, ticktext=Y_TICK_LABELS, ticklabelstandoff=8, **axis_common),
    legend=dict(x=0.0083, y=0.234, xanchor="left", yanchor="top", bgcolor="rgba(0,0,0,0)",
                borderwidth=0, itemwidth=95,
                font=dict(family=FONT, size=89, color="black")),
    shapes=shapes,
    annotations=annotations,
    showlegend=True,
)

fig.write_html("out.html")
